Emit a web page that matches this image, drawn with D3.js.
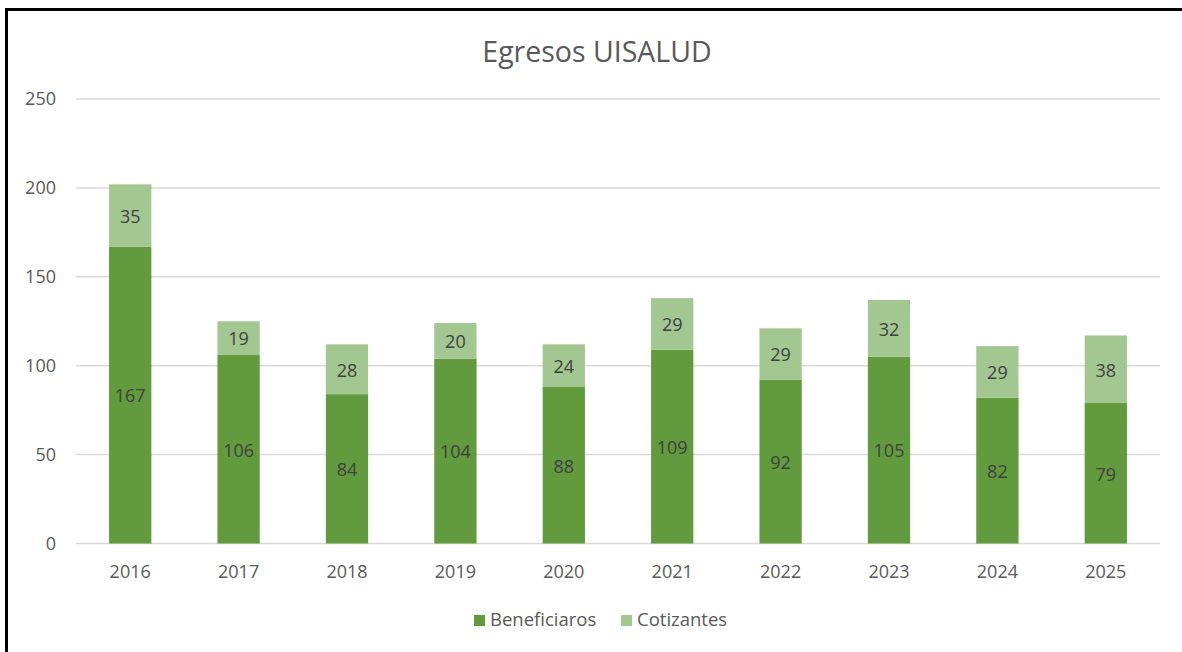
<!DOCTYPE html>
<html>
<head>
<meta charset="utf-8">
<script src="https://cdn.jsdelivr.net/npm/d3@7"></script>
<style>
  html, body { margin: 0; padding: 0; background: #fff; }
  svg { display: block; font-family: 'Open Sans', sans-serif; }
</style>
</head>
<body>
<div id="vis"></div>
<script>
// data
var years = ['2016', '2017', '2018', '2019', '2020', '2021', '2022', '2023', '2024', '2025'];
var beneficiaros = [167, 106, 84, 104, 88, 109, 92, 105, 82, 79];
var cotizantes = [35, 19, 28, 20, 24, 29, 29, 32, 29, 38];
var seriesNames = ['Beneficiaros', 'Cotizantes'];
var yTicks = [0, 50, 100, 150, 200, 250];

var width = 1182;
var height = 652;
var margin = { top: 99, right: 22, bottom: 108.5, left: 76 };
var colors = ['#629a3e', '#a3c791'];

var svg = d3.select('#vis').append('svg')
  .attr('width', width)
  .attr('height', height);

// outer frame (extends past right and bottom edges)
svg.append('rect')
  .attr('x', 6.5).attr('y', 9.5)
  .attr('width', width + 20).attr('height', height + 20)
  .attr('fill', 'none')
  .attr('stroke', '#000')
  .attr('stroke-width', 3);

var x = d3.scaleBand()
  .domain(years)
  .range([margin.left, width - margin.right])
  .paddingInner(0.61)
  .paddingOuter(0.305);

var y = d3.scaleLinear()
  .domain([0, 250])
  .range([height - margin.bottom, margin.top]);

// title
svg.append('text')
  .attr('x', 597).attr('y', 62)
  .attr('text-anchor', 'middle')
  .attr('font-size', 28.5)
  .attr('fill', '#595959')
  .text('Egresos UISALUD');

// gridlines
svg.append('g')
  .selectAll('line')
  .data(yTicks)
  .enter().append('line')
  .attr('x1', margin.left).attr('x2', width - margin.right)
  .attr('y1', function (d) { return y(d); })
  .attr('y2', function (d) { return y(d); })
  .attr('stroke', '#d9d9d9')
  .attr('stroke-width', 1.5);

// y axis labels
var yAxis = d3.axisLeft(y).tickValues(yTicks).tickSize(0).tickPadding(20);
var yg = svg.append('g')
  .attr('transform', 'translate(' + margin.left + ',0)')
  .call(yAxis);
yg.select('.domain').remove();
yg.selectAll('text')
  .attr('font-family', 'Open Sans, sans-serif')
  .attr('font-size', 18)
  .attr('fill', '#595959');

// x axis labels
var xAxis = d3.axisBottom(x).tickSize(0).tickPadding(22);
var xg = svg.append('g')
  .attr('transform', 'translate(0,' + y(0) + ')')
  .call(xAxis);
xg.select('.domain').remove();
xg.selectAll('text')
  .attr('font-family', 'Open Sans, sans-serif')
  .attr('font-size', 18)
  .attr('fill', '#595959');

// stack
var table = years.map(function (yr, i) {
  return { year: yr, Beneficiaros: beneficiaros[i], Cotizantes: cotizantes[i] };
});
var stacked = d3.stack().keys(seriesNames)(table);

var layers = svg.append('g').selectAll('g')
  .data(stacked)
  .enter().append('g')
  .attr('fill', function (d, i) { return colors[i]; });

layers.selectAll('rect')
  .data(function (d) { return d; })
  .enter().append('rect')
  .attr('x', function (d) { return x(d.data.year); })
  .attr('width', x.bandwidth())
  .attr('y', function (d) { return y(d[1]); })
  .attr('height', function (d) { return y(d[0]) - y(d[1]); });

layers.selectAll('text')
  .data(function (d) { return d; })
  .enter().append('text')
  .attr('x', function (d) { return x(d.data.year) + x.bandwidth() / 2; })
  .attr('y', function (d) { return (y(d[0]) + y(d[1])) / 2 + 1; })
  .attr('dy', '0.35em')
  .attr('text-anchor', 'middle')
  .attr('font-size', 18)
  .attr('fill', '#404040')
  .text(function (d) { return d[1] - d[0]; });

// legend
var legendX = [474, 621];
var legend = svg.append('g').selectAll('g')
  .data(seriesNames)
  .enter().append('g')
  .attr('transform', function (d, i) { return 'translate(' + legendX[i] + ',620)'; });

legend.append('rect')
  .attr('x', 0).attr('y', -5)
  .attr('width', 11).attr('height', 11)
  .attr('fill', function (d, i) { return colors[i]; });

legend.append('text')
  .attr('x', 16).attr('y', 0)
  .attr('dy', '0.35em')
  .attr('font-size', 18.5)
  .attr('fill', '#595959')
  .text(function (d) { return d; });
</script>
</body>
</html>
